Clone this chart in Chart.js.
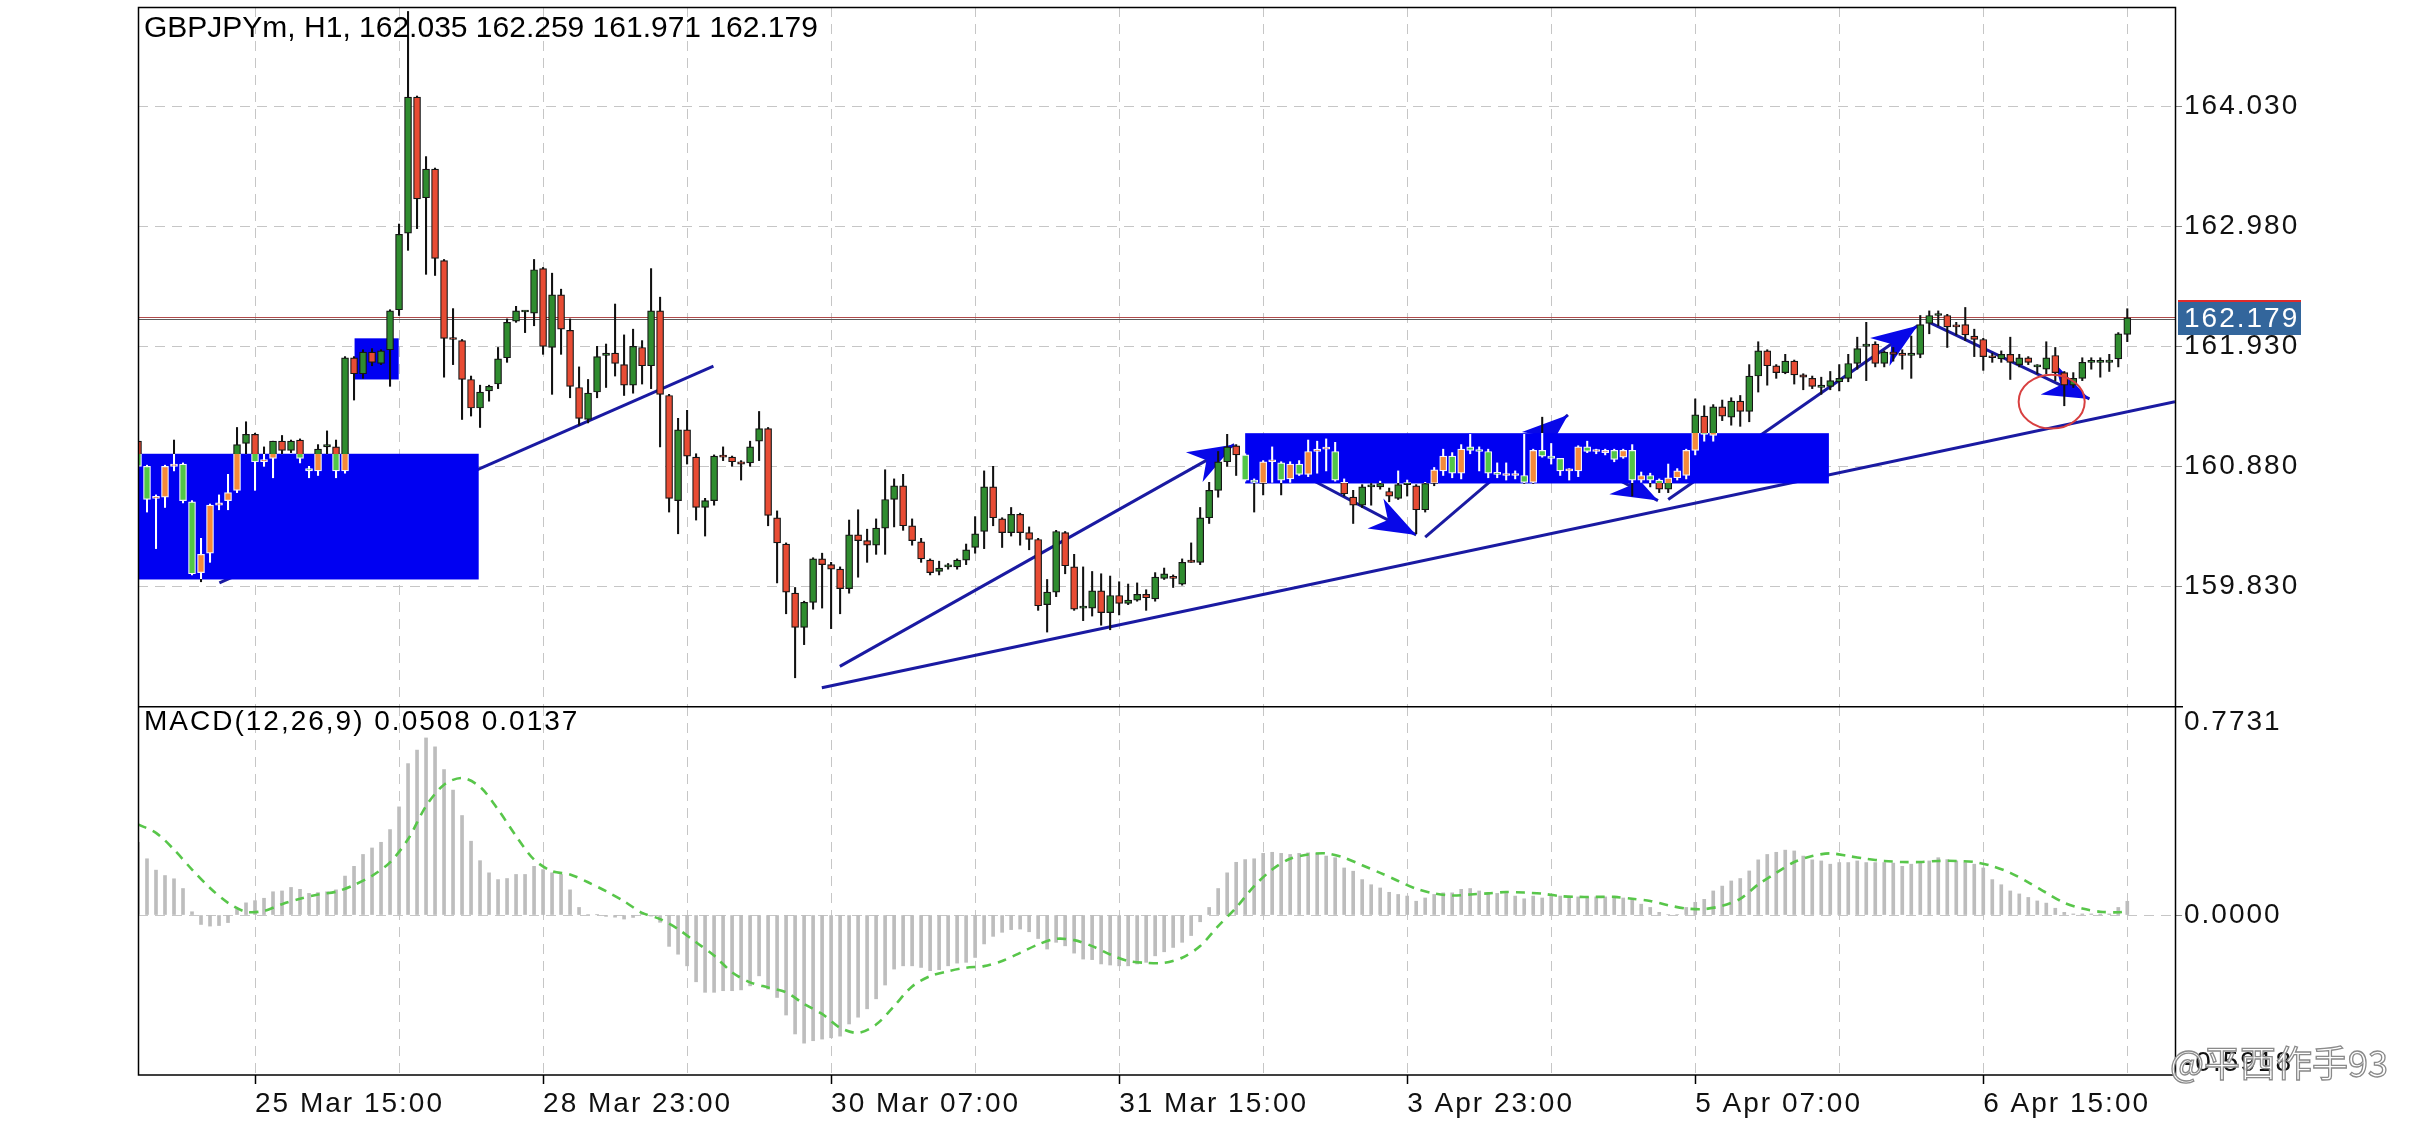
<!DOCTYPE html>
<html>
<head>
<meta charset="utf-8">
<title>GBPJPYm H1</title>
<script src="https://cdn.jsdelivr.net/npm/chart.js@4.4.1/dist/chart.umd.min.js"></script>
<style>
  html, body { margin: 0; padding: 0; background: #fff; }
  #wrap { position: relative; width: 2436px; height: 1125px; overflow: hidden; background: #fff; }
  canvas { position: absolute; left: 0; }
  #price { top: 0; }
  #macd { top: 706px; }
</style>
</head>
<body>
<div id="wrap">
  <canvas id="price" width="2436" height="706"></canvas>
  <canvas id="macd" width="2436" height="419"></canvas>
</div>
<script>
// hourly candles, bar 0 is the half-cut one at the left edge
const open = [
  161.10,160.88,160.60,160.61,160.88,160.90,160.57,159.95,160.12,160.54,
  160.58,160.67,161.08,161.16,160.92,160.95,161.10,161.02,161.11,160.86,
  160.84,161.05,161.05,160.84,161.83,161.69,161.88,161.78,161.90,162.25,
  162.92,164.11,163.23,163.48,162.68,162.00,161.98,161.64,161.39,161.54,
  161.60,161.83,162.15,162.23,162.22,162.61,161.92,162.38,162.07,161.57,
  161.29,161.53,161.85,161.87,161.77,161.59,161.92,161.76,162.24,161.50,
  160.58,161.20,160.96,160.52,160.58,160.97,160.96,160.92,160.91,161.10,
  161.21,160.43,160.20,159.77,159.47,159.69,160.07,160.02,159.98,159.81,
  160.28,160.23,160.19,160.34,160.59,160.71,160.36,160.22,160.06,159.96,
  160.00,160.00,160.06,160.17,160.31,160.70,160.42,160.30,160.46,160.30,
  160.24,159.67,159.78,160.30,160.00,159.64,159.64,159.79,159.60,159.75,
  159.68,159.71,159.76,159.72,159.90,159.91,159.85,160.06,160.04,160.43,
  160.67,160.92,161.06,160.98,160.76,160.73,160.92,160.91,160.77,160.90,
  160.81,161.01,161.03,161.01,160.74,160.61,160.54,160.70,160.70,160.66,
  160.60,160.72,160.71,160.50,160.73,160.84,160.97,160.82,161.05,161.02,
  161.01,160.82,160.80,160.80,160.80,160.74,161.02,160.97,160.95,160.84,
  160.84,161.05,161.01,161.00,161.02,160.96,161.02,160.76,160.80,160.76,
  160.68,160.78,160.80,161.02,161.32,161.15,161.40,161.31,161.45,161.36,
  161.67,161.89,161.76,161.70,161.80,161.68,161.65,161.57,161.58,161.62,
  161.65,161.78,161.93,161.95,161.78,161.88,161.87,161.85,161.86,162.13,
  162.20,162.20,162.11,162.12,162.02,161.99,161.84,161.82,161.86,161.77,
  161.83,161.75,161.73,161.85,161.70,161.59,161.65,161.79,161.79,161.79,
  161.82,162.035
];
const high = [
  161.12,160.89,160.63,160.89,161.11,160.91,160.58,160.25,160.55,160.63,
  160.81,161.22,161.27,161.17,161.05,161.10,161.15,161.11,161.12,160.88,
  161.07,161.19,161.11,161.84,161.84,161.90,161.91,161.90,162.25,163.00,
  164.86,164.12,163.59,163.49,162.69,162.26,161.99,161.67,161.59,161.59,
  161.92,162.17,162.28,162.24,162.69,162.62,162.57,162.43,162.17,161.75,
  161.64,161.93,161.95,162.30,162.03,162.08,161.98,162.61,162.36,161.51,
  161.30,161.37,160.99,160.60,160.98,161.05,160.97,160.93,161.10,161.36,
  161.22,160.49,160.21,159.82,159.70,160.08,160.12,160.04,160.00,160.41,
  160.50,160.33,160.42,160.85,160.77,160.81,160.42,160.25,160.07,160.05,
  160.03,160.07,160.20,160.44,160.84,160.88,160.43,160.52,160.47,160.35,
  160.25,159.89,160.32,160.31,160.11,160.00,159.96,159.94,159.92,159.87,
  159.85,159.86,159.80,159.95,159.99,159.93,160.07,160.21,160.52,160.74,
  161.01,161.16,161.07,160.99,160.77,160.93,161.05,160.92,160.92,160.93,
  161.11,161.10,161.12,161.09,160.77,160.67,160.72,160.73,160.75,160.69,
  160.84,160.76,160.72,160.74,160.87,161.03,161.00,161.07,161.16,161.05,
  161.03,160.91,160.91,160.84,161.16,161.03,161.31,161.08,160.95,160.86,
  161.06,161.10,161.03,161.03,161.03,161.03,161.07,160.83,160.82,160.77,
  160.90,160.86,161.03,161.47,161.41,161.42,161.46,161.48,161.50,161.77,
  161.97,161.90,161.77,161.86,161.81,161.69,161.67,161.66,161.71,161.77,
  161.86,162.01,162.14,161.97,161.89,161.92,161.90,162.02,162.20,162.24,
  162.24,162.21,162.14,162.27,162.08,162.00,161.87,161.89,162.01,161.86,
  161.84,161.77,161.97,161.92,161.71,161.70,161.83,161.83,161.83,161.86,
  162.05,162.259
];
const low = [
  160.86,160.48,160.16,160.52,160.84,160.56,159.93,159.87,160.04,160.50,
  160.50,160.65,160.99,160.67,160.88,160.78,160.99,161.00,160.91,160.78,
  160.80,160.99,160.78,160.82,161.46,161.65,161.76,161.77,161.58,162.20,
  162.77,162.96,162.56,162.55,161.66,161.77,161.29,161.32,161.22,161.45,
  161.56,161.79,162.14,162.05,162.11,161.86,161.51,161.86,161.48,161.24,
  161.26,161.48,161.57,161.67,161.50,161.52,161.60,161.56,161.05,160.48,
  160.29,160.90,160.41,160.27,160.54,160.93,160.88,160.76,160.88,160.93,
  160.36,159.86,159.59,159.03,159.32,159.63,159.64,159.46,159.59,159.77,
  159.91,160.04,160.11,160.11,160.35,160.32,160.19,160.04,159.93,159.93,
  159.98,159.98,160.02,160.12,160.16,160.36,160.17,160.27,160.19,160.15,
  159.62,159.43,159.74,159.94,159.62,159.53,159.57,159.49,159.45,159.58,
  159.67,159.70,159.62,159.70,159.89,159.82,159.84,160.04,160.02,160.38,
  160.61,160.88,160.80,160.75,160.48,160.63,160.74,160.63,160.74,160.80,
  160.79,160.82,160.84,160.75,160.62,160.38,160.52,160.54,160.68,160.57,
  160.59,160.62,160.29,160.48,160.71,160.80,160.78,160.77,160.99,160.84,
  160.78,160.78,160.76,160.77,160.73,160.73,160.96,160.90,160.80,160.76,
  160.79,161.00,160.99,160.98,160.92,160.95,160.62,160.74,160.70,160.65,
  160.65,160.76,160.77,160.98,161.10,161.10,161.28,161.24,161.23,161.27,
  161.53,161.59,161.65,161.69,161.60,161.55,161.56,161.51,161.55,161.54,
  161.62,161.73,161.63,161.75,161.75,161.80,161.73,161.65,161.83,162.04,
  162.11,161.92,162.03,161.98,161.84,161.72,161.79,161.79,161.64,161.75,
  161.77,161.69,161.69,161.63,161.41,161.57,161.63,161.73,161.66,161.71,
  161.75,161.971
];
const close = [
  160.88,160.59,160.60,160.88,160.90,160.58,159.94,160.11,160.54,160.56,
  160.65,161.07,161.16,160.92,160.94,161.10,161.02,161.10,160.95,160.84,
  161.03,161.07,160.84,161.83,161.69,161.88,161.79,161.89,162.24,162.91,
  164.11,163.22,163.48,162.70,162.00,161.99,161.64,161.39,161.53,161.58,
  161.82,162.14,162.24,162.23,162.60,161.93,162.38,162.08,161.58,161.30,
  161.52,161.84,161.87,161.78,161.59,161.93,161.76,162.24,161.51,160.60,
  161.20,160.97,160.52,160.58,160.97,160.96,160.92,160.90,161.05,161.21,
  160.45,160.21,159.78,159.47,159.69,160.07,160.02,159.98,159.81,160.28,
  160.23,160.19,160.34,160.59,160.71,160.36,160.23,160.07,159.95,159.99,
  160.01,160.06,160.15,160.29,160.70,160.43,160.30,160.46,160.30,160.24,
  159.66,159.78,160.31,160.01,159.63,159.64,159.79,159.60,159.75,159.68,
  159.71,159.76,159.73,159.91,159.94,159.90,160.04,160.04,160.43,160.67,
  160.92,161.05,160.98,160.76,160.74,160.92,160.92,160.76,160.90,160.81,
  161.01,161.03,161.03,160.76,160.64,160.54,160.70,160.70,160.73,160.62,
  160.72,160.73,160.50,160.73,160.85,160.97,160.82,161.03,161.02,161.01,
  160.82,160.81,160.80,160.81,160.74,161.02,160.97,160.95,160.84,160.84,
  161.05,161.01,161.01,161.02,160.94,161.02,160.76,160.80,160.76,160.68,
  160.78,160.84,161.02,161.33,161.16,161.40,161.32,161.45,161.36,161.67,
  161.89,161.76,161.70,161.80,161.68,161.66,161.58,161.59,161.63,161.65,
  161.78,161.91,161.95,161.78,161.88,161.86,161.85,161.87,162.12,162.20,
  162.20,162.10,162.10,162.03,161.99,161.84,161.83,161.86,161.79,161.83,
  161.79,161.75,161.83,161.70,161.59,161.65,161.79,161.80,161.79,161.81,
  162.04,162.179
];

// MACD(12,26,9): histogram per bar, signal read every other bar
const macdHist = [
  0.269,0.208,0.166,0.146,0.134,0.098,0.012,-0.035,-0.041,-0.039,
  -0.028,0.022,0.045,0.053,0.062,0.086,0.089,0.102,0.095,0.080,
  0.083,0.086,0.093,0.144,0.180,0.224,0.248,0.269,0.316,0.400,
  0.560,0.610,0.655,0.622,0.538,0.462,0.368,0.273,0.201,0.156,
  0.131,0.135,0.150,0.150,0.180,0.168,0.156,0.150,0.093,0.028,
  0.002,0.001,-0.005,-0.008,-0.015,-0.009,0.010,-0.004,-0.027,-0.116,
  -0.145,-0.188,-0.247,-0.286,-0.286,-0.280,-0.280,-0.277,-0.262,-0.225,
  -0.274,-0.305,-0.370,-0.440,-0.474,-0.465,-0.459,-0.454,-0.448,-0.403,
  -0.378,-0.347,-0.310,-0.259,-0.200,-0.188,-0.188,-0.194,-0.206,-0.202,
  -0.188,-0.178,-0.175,-0.157,-0.107,-0.079,-0.064,-0.054,-0.052,-0.062,
  -0.087,-0.126,-0.101,-0.114,-0.141,-0.163,-0.165,-0.181,-0.185,-0.188,
  -0.188,-0.181,-0.175,-0.151,-0.136,-0.120,-0.101,-0.076,-0.025,0.028,
  0.098,0.156,0.195,0.205,0.208,0.228,0.232,0.228,0.224,0.228,
  0.230,0.228,0.218,0.212,0.174,0.162,0.131,0.112,0.100,0.084,
  0.076,0.070,0.051,0.063,0.076,0.082,0.082,0.095,0.098,0.089,
  0.082,0.080,0.080,0.070,0.060,0.070,0.063,0.070,0.070,0.063,
  0.067,0.067,0.067,0.067,0.063,0.063,0.060,0.040,0.028,0.010,
  0.002,0.002,0.028,0.047,0.058,0.089,0.107,0.126,0.135,0.163,
  0.204,0.224,0.232,0.240,0.237,0.218,0.204,0.200,0.188,0.194,
  0.194,0.200,0.194,0.194,0.194,0.192,0.180,0.188,0.194,0.200,
  0.212,0.205,0.200,0.194,0.188,0.174,0.131,0.112,0.089,0.078,
  0.065,0.052,0.044,0.025,0.010,0.004,0.004,0.004,0.004,0.004,
  0.028,0.0508
];
const sigBar = [
  0,2,4,6,8,10,12,14,16,18,20,22,24,26,28,30,32,34,36,38,
  40,42,44,46,48,50,52,54,56,58,60,62,64,66,68,70,72,74,76,78,
  80,82,84,86,88,90,92,94,96,98,100,102,104,106,108,110,112,114,116,118,
  120,122,124,126,128,130,132,134,136,138,140,142,144,146,148,150,152,154,156,158,
  160,162,164,166,168,170,172,174,176,178,180,182,184,186,188,190,192,194,196,198,
  200,202,204,206,208,210,212,214,216,218,220,221
];
const sigVal = [
  0.335,0.304,0.242,0.168,0.100,0.045,0.012,0.015,0.040,0.060,
  0.076,0.086,0.111,0.145,0.195,0.280,0.403,0.482,0.507,0.474,
  0.390,0.292,0.205,0.162,0.150,0.121,0.088,0.051,0.008,-0.015,
  -0.052,-0.101,-0.150,-0.212,-0.249,-0.268,-0.286,-0.329,-0.366,-0.417,
  -0.436,-0.405,-0.337,-0.264,-0.226,-0.208,-0.195,-0.189,-0.170,-0.140,
  -0.109,-0.088,-0.093,-0.115,-0.146,-0.170,-0.177,-0.177,-0.158,-0.115,
  -0.041,0.027,0.107,0.168,0.208,0.224,0.228,0.212,0.184,0.156,
  0.126,0.097,0.080,0.072,0.076,0.080,0.085,0.083,0.079,0.070,
  0.067,0.067,0.067,0.060,0.052,0.036,0.024,0.022,0.034,0.060,
  0.113,0.156,0.196,0.218,0.228,0.218,0.208,0.200,0.196,0.196,
  0.200,0.200,0.196,0.181,0.156,0.121,0.082,0.045,0.024,0.012,
  0.010,0.0137
];

const tickBars = [13, 45, 77, 109, 141, 173, 205];
const tickLabels = ['25 Mar 15:00', '28 Mar 23:00', '30 Mar 07:00', '31 Mar 15:00', '3 Apr 23:00', '5 Apr 07:00', '6 Apr 15:00'];
const priceTicks = [159.830, 160.880, 161.930, 162.980, 164.030];
const macdLabels = [0.7731, 0.0000, -0.5918];
const lastPrice = 162.179;
const titleText = 'GBPJPYm, H1, 162.035 162.259 161.971 162.179';
const macdText = 'MACD(12,26,9) 0.0508 0.0137';
const signature = '@平西作手93';

// drawn objects, in bar index / price units
const zones = [[-3, 37.85, 159.89, 160.99], [24.06, 28.96, 161.64, 162.00], [123.0, 187.85, 160.73, 161.17]];
const trendLines = [[9.04, 159.86, 63.93, 161.757], [75.97, 158.942, 226.3, 161.446]];
const arrows = [
  [77.97, 159.13, 121.8, 161.07], [126.6, 160.92, 142.0, 160.28], [143.0, 160.26, 158.86, 161.33],
  [162.6, 160.84, 168.86, 160.58], [170.0, 160.59, 197.7, 162.11], [199.0, 162.14, 216.8, 161.47]
];
const ring = [212.6, 161.446, 3.67, 0.236];

const bars = open.map((_, i) => i);
const gridBars = tickBars.flatMap(b => [b, b + 16]);
const FONT = 'Liberation Sans, Arial, sans-serif';

// colour that flips inside the blue zones (mt4 draws the candles inverted there)
function bandPaint(c, outside, inside) {
  const i = c.dataIndex;
  const chart = c.chart;
  const z = zones.find(z => i >= z[0] - 0.1 && i <= z[1] + 0.1);
  if (!z || !chart.chartArea) return outside;
  const y = chart.scales.y;
  const h = chart.height;
  const f0 = Math.min(Math.max(y.getPixelForValue(z[3]) / h, 0), 1);
  const f1 = Math.min(Math.max(y.getPixelForValue(z[2]) / h, 0), 1);
  const g = chart.ctx.createLinearGradient(0, 0, 0, h);
  g.addColorStop(0, outside); g.addColorStop(f0, outside);
  g.addColorStop(f0, inside); g.addColorStop(f1, inside);
  g.addColorStop(f1, outside); g.addColorStop(1, outside);
  return g;
}
const bull = i => close[i] >= open[i];
const noPad = s => { s.paddingTop = 0; s.paddingBottom = 0; s.paddingLeft = 0; s.paddingRight = 0; };

function timeAxis(showLabels) {
  return {
    type: 'linear', min: 0, max: 226.3, offset: false,
    afterBuildTicks: s => { s.ticks = gridBars.map(v => ({ value: v })); },
    afterFit: s => { s.height = showLabels ? 50 : 0; noPad(s); },
    grid: {
      offset: false,
      color: '#c6c6c6', lineWidth: 1, drawTicks: showLabels, tickLength: 9, tickWidth: 1.5, tickBorderDash: [],
      tickColor: c => (c.tick && tickBars.includes(c.tick.value)) ? '#000' : 'rgba(0,0,0,0)'
    },
    border: { display: false, dash: [10, 7] },
    ticks: {
      display: showLabels, autoSkip: false, maxRotation: 0, minRotation: 0, align: 'start', padding: 3,
      font: { family: FONT, size: 28 }, color: '#111',
      callback: v => { const k = tickBars.indexOf(v); return k < 0 ? '' : tickLabels[k]; }
    }
  };
}

function arrowHead(ctx, x0, y0, x1, y1) {
  const a = Math.atan2(y1 - y0, x1 - x0);
  ctx.save();
  ctx.translate(x1, y1);
  ctx.rotate(a);
  ctx.beginPath();
  ctx.moveTo(0, 0);
  ctx.lineTo(-46, -17);
  ctx.lineTo(-32, 0);
  ctx.lineTo(-46, 17);
  ctx.closePath();
  ctx.fill();
  ctx.restore();
}

const priceDecor = {
  id: 'priceDecor',
  beforeDraw(chart) { chart.ctx.letterSpacing = '2px'; },
  beforeDatasetsDraw(chart) {
    const { ctx, chartArea: a, scales: { x, y } } = chart;
    ctx.save();
    ctx.beginPath(); ctx.rect(a.left, a.top, a.width, a.height); ctx.clip();

    const py = Math.round(y.getPixelForValue(lastPrice));
    ctx.lineWidth = 1.2;
    ctx.strokeStyle = '#b04a4a';
    ctx.beginPath(); ctx.moveTo(a.left, py - 0.5); ctx.lineTo(a.right, py - 0.5); ctx.stroke();
    ctx.strokeStyle = '#5c5c5c';
    ctx.beginPath(); ctx.moveTo(a.left, py + 1.5); ctx.lineTo(a.right, py + 1.5); ctx.stroke();

    ctx.lineWidth = 3;
    ctx.strokeStyle = '#1a1aa2';
    ctx.fillStyle = '#0808e8';
    trendLines.forEach(l => {
      ctx.beginPath();
      ctx.moveTo(x.getPixelForValue(l[0]), y.getPixelForValue(l[1]));
      ctx.lineTo(x.getPixelForValue(l[2]), y.getPixelForValue(l[3]));
      ctx.stroke();
    });
    arrows.forEach(l => {
      const x0 = x.getPixelForValue(l[0]), y0 = y.getPixelForValue(l[1]);
      const x1 = x.getPixelForValue(l[2]), y1 = y.getPixelForValue(l[3]);
      ctx.beginPath(); ctx.moveTo(x0, y0); ctx.lineTo(x1, y1); ctx.stroke();
      arrowHead(ctx, x0, y0, x1, y1);
    });

    ctx.fillStyle = '#0000f2';
    zones.forEach(z => {
      const x0 = x.getPixelForValue(z[0]), x1 = x.getPixelForValue(z[1]);
      const y0 = y.getPixelForValue(z[3]), y1 = y.getPixelForValue(z[2]);
      ctx.fillRect(x0, y0, x1 - x0, y1 - y0);
    });
    ctx.restore();
  },
  afterDatasetsDraw(chart) {
    const { ctx, scales: { x, y } } = chart;
    const cx = x.getPixelForValue(ring[0]), cy = y.getPixelForValue(ring[1]);
    const rx = x.getPixelForValue(ring[0] + ring[2]) - cx;
    const ry = cy - y.getPixelForValue(ring[1] + ring[3]);
    ctx.save();
    ctx.strokeStyle = '#d84040';
    ctx.lineWidth = 2;
    ctx.beginPath(); ctx.ellipse(cx, cy, rx, ry, 0, 0, Math.PI * 2); ctx.stroke();
    ctx.restore();
  },
  afterDraw(chart) {
    const { ctx, chartArea: a, scales: { y } } = chart;
    ctx.save();
    ctx.strokeStyle = '#000';
    ctx.lineWidth = 1.5;
    ctx.beginPath();
    ctx.moveTo(a.left + 0.5, chart.height);
    ctx.lineTo(a.left + 0.5, a.top + 0.5);
    ctx.lineTo(a.right + 0.5, a.top + 0.5);
    ctx.lineTo(a.right + 0.5, chart.height);
    ctx.stroke();

    ctx.letterSpacing = '0px';
    ctx.fillStyle = '#000';
    ctx.font = '30px ' + FONT;
    ctx.textBaseline = 'middle';
    ctx.textAlign = 'left';
    ctx.fillText(titleText, 144, 29);

    const py = Math.round(y.getPixelForValue(lastPrice));
    ctx.fillStyle = '#33669c';
    ctx.fillRect(a.right + 3, py - 17, 123, 34);
    ctx.fillStyle = '#e02a2a';
    ctx.fillRect(a.right + 3, py - 18, 123, 2);
    ctx.letterSpacing = '2px';
    ctx.fillStyle = '#fff';
    ctx.font = '28px ' + FONT;
    ctx.fillText(lastPrice.toFixed(3), a.right + 9, py + 1);
    ctx.restore();
  }
};

const macdDecor = {
  id: 'macdDecor',
  beforeDraw(chart) { chart.ctx.letterSpacing = '2px'; },
  afterDraw(chart) {
    const { ctx, chartArea: a } = chart;
    ctx.save();
    ctx.strokeStyle = '#000';
    ctx.lineWidth = 1.5;
    ctx.strokeRect(a.left + 0.5, a.top + 0.75, a.right - a.left, a.bottom - a.top - 0.75);
    ctx.beginPath(); ctx.moveTo(a.right, a.top + 0.75); ctx.lineTo(a.right + 8, a.top + 0.75); ctx.stroke();

    ctx.fillStyle = '#000';
    ctx.font = '28px ' + FONT;
    ctx.textBaseline = 'middle';
    ctx.textAlign = 'left';
    ctx.fillText(macdText, 144, 16);

    ctx.fillStyle = '#111';
    ctx.fillText(macdLabels[0].toFixed(4), a.right + 9, a.top + 16);
    ctx.fillText(macdLabels[2].toFixed(4), a.right + 9, a.bottom - 12);

    ctx.letterSpacing = '0px';
    ctx.font = '36px "Noto Sans CJK SC", sans-serif';
    ctx.lineWidth = 1.3;
    ctx.fillStyle = 'rgba(255,255,255,0.85)';
    ctx.strokeStyle = '#8a8a8a';
    ctx.fillText(signature, 2170, a.bottom - 12);
    ctx.strokeText(signature, 2170, a.bottom - 12);
    ctx.restore();
  }
};

new Chart(document.getElementById('price'), {
  type: 'bar',
  data: {
    datasets: [
      {
        label: 'body',
        data: bars.map(i => ({ x: i, y: [open[i], close[i]] })),
        backgroundColor: c => c.dataIndex === undefined ? '#2f8c2f'
          : bandPaint(c, bull(c.dataIndex) ? '#2f8c2f' : '#e84c34', bull(c.dataIndex) ? '#f48a3a' : '#52c646'),
        borderColor: c => c.dataIndex === undefined ? '#111' : bandPaint(c, '#151515', '#f2f2ff'),
        borderWidth: 1.2,
        borderSkipped: false,
        barThickness: 7,
        minBarLength: 2,
        grouped: false,
        order: 0
      },
      {
        label: 'wick',
        data: bars.map(i => ({ x: i, y: [low[i], high[i]] })),
        backgroundColor: c => c.dataIndex === undefined ? '#111' : bandPaint(c, '#111111', '#ffffff'),
        barThickness: 1.4,
        grouped: false,
        order: 1
      }
    ]
  },
  options: {
    responsive: false,
    animation: false,
    devicePixelRatio: 1,
    events: [],
    layout: { padding: { left: 138, top: 7, right: 0, bottom: 0 }, autoPadding: false },
    plugins: { legend: { display: false }, tooltip: { enabled: false } },
    scales: {
      x: timeAxis(false),
      y: {
        type: 'linear', position: 'right', min: 158.783, max: 164.899,
        afterBuildTicks: s => { s.ticks = priceTicks.map(v => ({ value: v })); },
        afterFit: s => { s.width = 261; noPad(s); },
        grid: { color: '#c6c6c6', tickLength: 7, tickColor: '#888', tickBorderDash: [] },
        border: { display: false, dash: [10, 7] },
        ticks: { font: { family: FONT, size: 28 }, color: '#111', padding: 2, callback: v => v.toFixed(3) }
      }
    }
  },
  plugins: [priceDecor]
});

new Chart(document.getElementById('macd'), {
  type: 'bar',
  data: {
    datasets: [
      {
        type: 'line',
        label: 'signal',
        data: sigBar.map((b, k) => ({ x: b, y: sigVal[k] })),
        borderColor: '#58c64a',
        borderWidth: 2.6,
        borderDash: [9, 7],
        pointRadius: 0,
        tension: 0.3,
        order: 0
      },
      {
        label: 'macd',
        data: bars.map(i => ({ x: i, y: macdHist[i] })),
        backgroundColor: '#bdbdbd',
        barThickness: 3,
        grouped: false,
        order: 1
      }
    ]
  },
  options: {
    responsive: false,
    animation: false,
    devicePixelRatio: 1,
    events: [],
    layout: { padding: { left: 138, top: 0, right: 0, bottom: 0 }, autoPadding: false },
    plugins: { legend: { display: false }, tooltip: { enabled: false } },
    scales: {
      x: timeAxis(true),
      y: {
        type: 'linear', position: 'right', min: macdLabels[2], max: macdLabels[0],
        afterBuildTicks: s => { s.ticks = [{ value: 0 }]; },
        afterFit: s => { s.width = 261; noPad(s); },
        grid: { color: '#c6c6c6', tickLength: 7, tickColor: '#888', tickBorderDash: [] },
        border: { display: false, dash: [10, 7] },
        ticks: { font: { family: FONT, size: 28 }, color: '#111', padding: 2, callback: v => v.toFixed(4) }
      }
    }
  },
  plugins: [macdDecor]
});
</script>
</body>
</html>
